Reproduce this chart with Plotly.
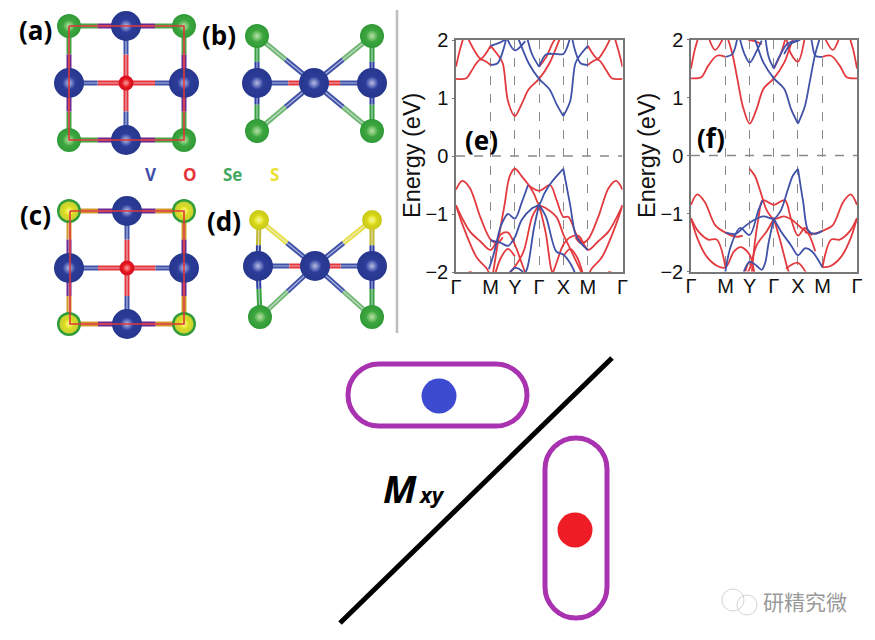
import plotly.graph_objects as go

# ---------- band-structure data (k along path, energy in eV) ----------
K_TICKS = [0, 1, 1.7, 2.4, 3.1, 3.81, 4.81]
K_LABELS = ["Γ", "M", "Y", "Γ", "X", "M", "Γ"]
E_TICKS = [-2, -1, 0, 1, 2]

E_RED = [
    [[0,.3,.45,.7,1],[1.33,1.34,1.47,1.66,1.57]],
    [[4.81,4.5,4.35,4.1,3.81],[1.33,1.34,1.47,1.66,1.57]],
    [[0,.1,.22],[1.54,1.8,2.05]],
    [[4.81,4.7,4.58],[1.54,1.8,2.05]],
    [[.33,.55,.72,1],[2.05,1.8,1.68,1.9]],
    [[4.48,4.26,4.09,3.81],[2.05,1.8,1.68,1.9]],
    [[1,1.2,1.35,1.5,1.7,1.9,2.1,2.4,2.7,2.95,3.05],[1.9,1.75,1.6,.95,.69,.9,1.15,1.33,1.6,1.95,2.1]],
    [[2.4,2.6,2.85,3.0],[1.54,1.7,2.0,2.05]],
    [[0,.18,.4,.7,1,1.2,1.35],[-.58,-.43,-.55,-1.05,-1.44,-1.5,-1.4]],
    [[4.81,4.63,4.41,4.11,3.81,3.6,3.45],[-.58,-.43,-.55,-1.05,-1.44,-1.5,-1.4]],
    [[0,.4,.7,1,1.3,1.5,1.7,1.9,2.05],[-.85,-1.3,-1.47,-1.62,-1.35,-1.32,-1.53,-1.85,-2.1]],
    [[4.81,4.41,4.11,3.81,3.55,3.3,3.1,2.9,2.75],[-.85,-1.3,-1.47,-1.62,-1.38,-1.4,-1.53,-1.85,-2.1]],
    [[0,.2,.6,.9,1],[-.85,-1.2,-1.75,-1.95,-2.1]],
    [[4.81,4.61,4.21,3.91,3.81],[-.85,-1.2,-1.75,-1.95,-2.1]],
    [[1.05,1.25,1.4,1.55,1.7,1.9,2.1,2.25,2.4,2.6,2.9,3.1,3.3,3.5,3.7],[-2.1,-1.35,-.85,-.35,-.22,-.35,-.5,-.65,-.84,-.9,-1.05,-1.35,-1.6,-1.85,-2.1]],
    [[2.08,2.4,2.72,2.9,3.1,3.25,3.5,3.81],[-.5,-.6,-.5,-.75,-1.05,-1.05,-1.38,-1.62]],
    [[2.4,2.6,2.75,2.85],[-.84,-1.35,-1.95,-2.1]],
    [[2.4,2.2,1.95,1.65,1.4],[-.84,-1.05,-1.65,-1.95,-2.1]],
    [[1.7,1.5,1.3,1.1],[-1.73,-1.6,-1.75,-2.1]],
    [[3.1,3.3,3.5,3.7],[-1.73,-1.6,-1.75,-2.1]],
    [[.3,.45],[-2.02,-2.0]],
    [[4.4,4.55],[-2.0,-2.02]],
]
E_BLUE = [
    [[1,1.2,1.35,1.46],[1.57,1.6,1.8,2.05]],
    [[3.81,3.6,3.45,3.35],[1.57,1.6,1.8,2.05]],
    [[1,1.25,1.46],[1.9,1.95,2.02]],
    [[3.1,3.3,3.45,3.6,3.81],[.69,.95,1.6,1.75,1.9]],
    [[3.1,2.9,2.7,2.4,2.1,1.85,1.75],[.69,.9,1.15,1.33,1.6,1.95,2.1]],
    [[1.46,1.7,2.0],[2.05,1.82,1.98]],
    [[2.4,2.6,2.85,3.1,3.3],[1.54,1.75,1.76,1.76,2.05]],
    [[2.4,2.2,2.05],[1.54,1.75,2.05]],
    [[.95,1.1,1.3,1.5,1.7,1.9,2.08],[-1.95,-1.67,-1.2,-1.0,-1.08,-.8,-.5]],
    [[3.1,2.9,2.7,2.55,2.4,2.2,1.9,1.7,1.5,1.3,1],[-.22,-.35,-.5,-.65,-.84,-.9,-1.1,-1.4,-1.55,-1.5,-1.45]],
    [[3.1,3.3,3.45,3.6,3.81],[-.22,-.85,-1.35,-1.5,-1.62]],
    [[2.4,2.25,2.05,1.9],[-.84,-1.25,-1.95,-2.1]],
    [[2.4,2.6,2.9,3.1,3.3,3.5],[-.84,-1.05,-1.65,-1.7,-1.85,-2.1]],
    [[1.5,1.7,1.9,2.0],[-2.05,-1.93,-1.98,-2.1]],
]
F_RED = [
    [[0,.3,.5,.75,1],[1.33,1.35,1.55,1.72,1.7]],
    [[4.81,4.51,4.31,4.06,3.81],[1.33,1.35,1.55,1.72,1.7]],
    [[0,.1,.22],[1.5,1.8,2.05]],
    [[4.81,4.71,4.59],[1.5,1.8,2.05]],
    [[.5,.7,.95],[2.05,1.82,2.05]],
    [[4.31,4.11,3.86],[2.05,1.82,2.05]],
    [[1.05,1.2,1.35,1.5,1.7,1.9,2.1,2.4,2.7,2.95,3.05],[2.05,1.75,1.3,.85,.55,.8,1.15,1.33,1.6,2.0,2.1]],
    [[2.4,2.6,2.75],[1.5,1.75,2.05]],
    [[2.75,2.9,3.1,3.3],[2.05,1.75,1.62,2.05]],
    [[1.65,1.85,2.05],[2.0,1.97,1.92]],
    [[0,.18,.4,.7,1,1.3,1.5],[-.85,-.67,-.8,-1.2,-1.33,-1.4,-1.38]],
    [[4.81,4.63,4.41,4.11,3.81,3.55,3.3],[-.85,-.67,-.8,-1.2,-1.3,-1.35,-1.32]],
    [[0,.2,.5,.75,1],[-1.08,-1.3,-1.45,-1.45,-1.93]],
    [[4.81,4.61,4.31,4.06,3.81],[-1.08,-1.3,-1.45,-1.45,-1.93]],
    [[0,.2,.45,.75,1,1.25,1.45,1.7,1.85],[-1.08,-1.45,-1.74,-1.9,-1.93,-1.65,-1.58,-1.71,-2.1]],
    [[4.81,4.61,4.36,4.06,3.81],[-1.08,-1.45,-1.74,-1.9,-1.93]],
    [[1.7,1.85,2,2.2,2.4,2.7,2.9,3.2,3.4,3.6],[-.23,-.35,-.6,-.95,-1.09,-1.05,-1.1,-1.25,-1.35,-1.65]],
    [[1.75,1.85,1.95,2.08,2.4,2.72,2.9,3.1,3.3,3.5],[-2.1,-1.5,-1.1,-.77,-.85,-.77,-1.1,-1.38,-1.25,-1.38]],
    [[2.4,2.6,2.8,2.9],[-1.09,-1.5,-1.95,-2.1]],
    [[2.4,2.2,1.9,1.7,1.55],[-1.09,-1.3,-1.55,-1.95,-2.1]],
    [[2.75,3.1,3.4],[-1.95,-1.85,-2.1]],
    [[1.55,1.7,1.85],[-2.05,-1.83,-2.05]],
]
F_BLUE = [
    [[1,1.2,1.35],[1.7,1.75,2.05]],
    [[3.81,3.6,3.45,3.3,3.1,2.9,2.7],[1.7,1.72,2.05,2.05,1.98,1.93,1.75]],
    [[3.1,3.3,3.45,3.6,3.75],[.55,.85,1.3,1.75,2.05]],
    [[3.1,2.9,2.7,2.4,2.1,1.85,1.75],[.55,.8,1.15,1.33,1.6,2.0,2.1]],
    [[2.4,2.6,2.8,3.1],[1.5,1.75,1.93,1.98]],
    [[2.4,2.25,2.15],[1.5,1.7,2.05]],
    [[1.4,1.55,1.7,1.9,2.05],[2.05,1.75,1.6,1.8,1.98]],
    [[.97,1.15,1.42,1.7,1.95,2.08],[-2.1,-1.57,-1.25,-1.37,-.95,-.77]],
    [[3.1,2.95,2.8,2.6,2.4,2.1,1.8,1.5,1.3,1],[-.23,-.35,-.6,-.95,-1.09,-1.05,-1.12,-1.25,-1.35,-1.33]],
    [[3.1,3.25,3.4,3.6,3.81],[-.23,-.8,-1.3,-1.35,-1.3]],
    [[2.4,2.25,2.15,2.05,1.9,1.7,1.5],[-1.09,-1.5,-1.85,-1.97,-1.9,-1.83,-2.05]],
    [[2.4,2.6,2.9,3.1,3.3,3.5,3.81],[-1.09,-1.3,-1.55,-1.72,-1.6,-1.65,-1.93]],
]

# ---------- crystal-structure data (picture coordinates) ----------
V_BIG = [[126,26],[69,83],[184,83],[126,140],[257,83],[314,83],[372,83],
         [127,211],[69,268],[184,268],[127,324],[258,266],[315,266],[372,266]]
O_ATOMS = [[126,83],[127,268]]
SE_ATOMS = [[69,26],[184,26],[69,140],[184,140],[257,36],[372,36],[257,131],[372,131],
            [69,211],[184,211],[69,324],[184,324],[260,317],[372,317]]
S_ATOMS = [[69,211],[184,211],[69,324],[184,324]]
S_TOP = [[259,220],[372,220]]
BONDS = [  # x1,y1,x2,y2,colour near 1,colour near 2, fraction
    [69,26,126,26,"#45A545","#6A2A90",.5],[184,26,126,26,"#45A545","#6A2A90",.5],
    [69,140,126,140,"#45A545","#6A2A90",.5],[184,140,126,140,"#45A545","#6A2A90",.5],
    [69,26,69,83,"#45A545","#6A2A90",.5],[69,140,69,83,"#45A545","#6A2A90",.5],
    [184,26,184,83,"#45A545","#6A2A90",.5],[184,140,184,83,"#45A545","#6A2A90",.5],
    [126,83,126,26,"#E5343A","#3F52A8",.5],[126,83,126,140,"#E5343A","#3F52A8",.5],
    [126,83,69,83,"#E5343A","#3F52A8",.5],[126,83,184,83,"#E5343A","#3F52A8",.5],
    [257,83,314,83,"#3F52A8","#E5343A",.55],[372,83,314,83,"#3F52A8","#E5343A",.55],
    [257,36,257,83,"#35A040","#2D3F9E",.55],[257,131,257,83,"#35A040","#2D3F9E",.55],
    [372,36,372,83,"#35A040","#2D3F9E",.55],[372,131,372,83,"#35A040","#2D3F9E",.55],
    [257,36,314,83,"#70B870","#3F52A8",.5],[372,36,314,83,"#70B870","#3F52A8",.5],
    [257,131,314,83,"#70B870","#3F52A8",.5],[372,131,314,83,"#70B870","#3F52A8",.5],
    [69,211,127,211,"#D09A2A","#6A2A90",.5],[184,211,127,211,"#D09A2A","#6A2A90",.5],
    [69,324,127,324,"#D09A2A","#6A2A90",.5],[184,324,127,324,"#D09A2A","#6A2A90",.5],
    [69,211,69,268,"#D09A2A","#6A2A90",.5],[69,324,69,268,"#D09A2A","#6A2A90",.5],
    [184,211,184,268,"#D09A2A","#6A2A90",.5],[184,324,184,268,"#D09A2A","#6A2A90",.5],
    [127,268,127,211,"#E5343A","#3F52A8",.5],[127,268,127,324,"#E5343A","#3F52A8",.5],
    [127,268,69,268,"#E5343A","#3F52A8",.5],[127,268,184,268,"#E5343A","#3F52A8",.5],
    [258,266,315,266,"#3F52A8","#E5343A",.55],[372,266,315,266,"#3F52A8","#E5343A",.55],
    [259,220,258,266,"#C0B82E","#2D3F9E",.55],[372,220,372,266,"#C0B82E","#2D3F9E",.55],
    [260,317,258,266,"#35A040","#2D3F9E",.55],[372,317,372,266,"#35A040","#2D3F9E",.55],
    [259,220,315,266,"#E8E04A","#3F52A8",.5],[372,220,315,266,"#E8E04A","#3F52A8",.5],
    [260,317,315,266,"#70B870","#3F52A8",.5],[372,317,315,266,"#70B870","#3F52A8",.5],
]
SQUARES = [[69,26,184,140],[70,211,184,324]]
PANEL_LABELS = [["(a)",35,30],["(b)",219,35],["(c)",35,215],["(d)",224,221],["(e)",481,140],["(f)",711,138]]
ELEMENTS = [["V",151,174,"#3F4FA8"],["O",190,174,"#E5343A"],["Se",232,174,"#45A860"],["S",274,174,"#E8E030"]]

W, H = 875, 640
fig = go.Figure()
RAW = dict(xaxis="x", yaxis="y", showlegend=False, hoverinfo="skip")

def add_line(xs, ys, color, width):
    fig.add_trace(go.Scatter(x=xs, y=ys, mode="lines", line=dict(color=color, width=width), **RAW))

def atoms(points, size, edge, mid, glow, highlight=0.45):
    # plotly radial gradient: marker.color is the rim, gradient.color the centre
    xs = [p[0] for p in points]; ys = [p[1] for p in points]
    fig.add_trace(go.Scatter(x=xs, y=ys, mode="markers",
                             marker=dict(size=size, color=edge, line=dict(width=0, color=edge),
                                         gradient=dict(type="radial", color=mid)), **RAW))
    fig.add_trace(go.Scatter(x=xs, y=ys, mode="markers",
                             marker=dict(size=size*highlight, color=mid, line=dict(width=0, color=mid),
                                         gradient=dict(type="radial", color=glow)), **RAW))

# divider
add_line([397, 397], [10, 333], "#BDBDBD", 2.5)

# bonds
for x1, y1, x2, y2, c1, c2, f in BONDS:
    xm, ym = x1 + (x2-x1)*f, y1 + (y2-y1)*f
    add_line([x1, xm], [y1, ym], c1, 5)
    add_line([xm, x2], [ym, y2], c2, 5)
    add_line([x1, x2], [y1, y2], "rgba(235,235,250,0.65)", 1.2)

atoms(SE_ATOMS, 24, "#2E9A36", "#4FB24A", "#B8E0A8")
atoms(S_ATOMS, 19, "#C8D030", "#E8E61E", "#F8F6A0")
atoms(S_TOP, 20, "#C8C818", "#E6E420", "#F8F6A0")
atoms(V_BIG, 30, "#27378E", "#2F40A0", "#B8BCE4", .42)
atoms(O_ATOMS, 15, "#D8101C", "#EC1C24", "#F8A0A0", .55)

for x1, y1, x2, y2 in SQUARES:
    add_line([x1, x2, x2, x1, x1], [y1, y1, y2, y2, y1], "#E0363A", 1.6)

# lower sketch
add_line([340, 612], [623, 358], "#000000", 5)
for x0, y0, x1, y1 in [[348, 364, 527, 426], [545, 438, 607, 618]]:
    r = min(x1-x0, y1-y0)/2; c = r*0.45
    path = (f"M{x0+r},{y0} L{x1-r},{y0} C{x1-c},{y0} {x1},{y0+c} {x1},{y0+r} "
            f"L{x1},{y1-r} C{x1},{y1-c} {x1-c},{y1} {x1-r},{y1} L{x0+r},{y1} "
            f"C{x0+c},{y1} {x0},{y1-c} {x0},{y1-r} L{x0},{y0+r} C{x0},{y0+c} {x0+c},{y0} {x0+r},{y0} Z")
    fig.add_shape(type="path", path=path, xref="x", yref="y", line=dict(color="#A832B0", width=5))
fig.add_trace(go.Scatter(x=[439, 575], y=[396, 530], mode="markers",
                         marker=dict(size=35, color=["#3D4BD0", "#EE1C25"], line_width=0), **RAW))
# watermark icon
fig.add_trace(go.Scatter(x=[733, 747], y=[600, 605], mode="markers",
                         marker=dict(size=[22, 20], color="rgba(255,255,255,0)",
                                     line=dict(color="#C4C4C4", width=1)), **RAW))

def band_panel(xa, ya, red, blue):
    for group, color in ((red, "#E23A3E"), (blue, "#3F52A8")):
        for k, e in group:
            fig.add_trace(go.Scatter(x=k, y=e, mode="lines", xaxis=xa, yaxis=ya, showlegend=False,
                                     hoverinfo="skip",
                                     line=dict(color=color, width=1.8, shape="spline", smoothing=0.9)))
    fig.add_trace(go.Scatter(x=[K_TICKS[0], K_TICKS[-1]], y=[0, 0], mode="lines", xaxis=xa, yaxis=ya,
                             showlegend=False, hoverinfo="skip",
                             line=dict(color="#8A8A8A", width=1.4, dash="dash")))

band_panel("x2", "y2", E_RED, E_BLUE)
band_panel("x3", "y3", F_RED, F_BLUE)

TICKFONT = dict(family="Liberation Sans", size=20, color="#111111")
def k_axis(dom, anchor):
    return dict(domain=dom, anchor=anchor, range=[0, 4.81], tickvals=K_TICKS, ticktext=K_LABELS,
                tickfont=TICKFONT, showgrid=True, gridcolor="#8A8A8A", griddash="dash", gridwidth=1.4,
                zeroline=False, showline=True, linecolor="#777777", linewidth=1.5, mirror=True,
                ticks="", ticklen=0, tickangle=0, automargin=False, ticklabelstandoff=-4)
def e_axis(dom, anchor):
    return dict(domain=dom, anchor=anchor, range=[-2, 2], tickvals=E_TICKS, ticktext=["−2", "−1", "0", "1", "2"],
                tickfont=TICKFONT, showgrid=False, zeroline=False, showline=True, linecolor="#777777",
                linewidth=1.5, mirror=True, ticks="outside", ticklen=2, tickcolor="#777777", automargin=False)

anns = []
def txt(t, x, y, size, color="#000000", family="Open Sans", bold=True, italic=False, angle=0):
    s = t
    if bold: s = f"<b>{s}</b>"
    if italic: s = f"<i>{s}</i>"
    anns.append(dict(text=s, x=x, y=y, xref="x", yref="y", showarrow=False, xanchor="center", yanchor="middle",
                     textangle=angle, font=dict(family=family, size=size, color=color)))
for t, x, y in PANEL_LABELS:
    txt(t, x, y, 26)
for t, x, y, c in ELEMENTS:
    txt(t, x, y, 17, c)
txt("Energy (eV)", 412, 156, 23.5, "#111111", "Liberation Sans", bold=False, angle=-90)
txt("Energy (eV)", 647, 156, 23.5, "#111111", "Liberation Sans", bold=False, angle=-90)
txt("M", 400, 488, 38, italic=True)
txt("xy", 431, 494, 22, italic=True)
txt("研精究微", 805, 601, 21, "#9A9A9A", "Noto Sans CJK SC", bold=False)

fig.update_layout(
    width=W, height=H, margin=dict(l=0, r=0, t=0, b=0), paper_bgcolor="white", plot_bgcolor="rgba(0,0,0,0)",
    showlegend=False, annotations=anns,
    xaxis=dict(domain=[0, 1], range=[0, W], visible=False, fixedrange=True),
    yaxis=dict(domain=[0, 1], range=[H, 0], visible=False, fixedrange=True),
    xaxis2=k_axis([456/W, 622.5/W], "y2"),
    yaxis2=e_axis([1-272/H, 1-40/H], "x2"),
    xaxis3=k_axis([691/W, 857/W], "y3"),
    yaxis3=e_axis([1-271.5/H, 1-39.5/H], "x3"),
)
fig.write_html("out.html", post_script="document.body.style.margin='0';",
               config=dict(displayModeBar=False))
